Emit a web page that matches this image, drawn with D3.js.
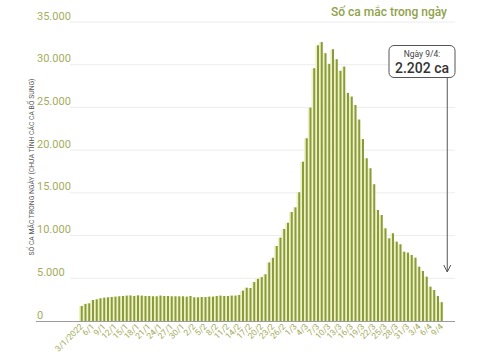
<!DOCTYPE html>
<html>
<head>
<meta charset="utf-8">
<script src="https://cdn.jsdelivr.net/npm/d3@7/dist/d3.min.js"></script>
<style>
  html, body { margin: 0; padding: 0; background: #ffffff; }
  svg { display: block; font-family: Roboto, "Noto Sans", sans-serif; }
</style>
</head>
<body>
<svg id="chart" width="479" height="355"></svg>
<script>
// ---- DATA ----
const startDate = "2022-01-03";
const dayCount = 97; // 3/1/2022 .. 9/4/2022
const cases = [
  1760, 2000, 2070, 2460, 2540, 2660, 2730, 2770, 2810, 2850,
  2890, 2930, 2970, 2990, 2930, 3000, 2970, 2930, 2930, 2890,
  2890, 2970, 2930, 2930, 2890, 2890, 2890, 2890, 2850, 2930,
  2770, 2770, 2810, 2810, 2850, 2850, 2930, 2970, 2930, 2930,
  2970, 2970, 3050, 3550, 3900, 3860, 4560, 4940, 5130, 5470,
  6850, 7400, 8780, 9760, 10770, 11500, 12760, 13300, 15070, 18650,
  21390, 24980, 29590, 32270, 32650, 31350, 30100, 31810, 30640, 29290,
  29780, 26700, 26270, 25290, 23580, 21300, 19050, 17880, 16010, 13000,
  12410, 10850, 9680, 10270, 9290, 8980, 8110, 8000, 7730, 7410,
  6360, 5850, 5190, 4020, 3630, 2930, 2202
];
const yTicks = [0, 5000, 10000, 15000, 20000, 25000, 30000, 35000];
const tickEvery = 3;
const titleText = "Số ca mắc trong ngày";
const yAxisTitle = "SỐ CA MẮC TRONG NGÀY (CHƯA TÍNH CÁC CA BỔ SUNG)";
const calloutLine1 = "Ngày 9/4:";
const calloutLine2 = "2.202 ca";

// ---- build dates ----
const t0 = new Date(startDate + "T00:00:00");
const dates = d3.range(dayCount).map(i => d3.timeDay.offset(t0, i));
const data = dates.map((d, i) => ({ date: d, value: cases[i], i }));

function dateLabel(d, i) {
  const s = d.getDate() + "/" + (d.getMonth() + 1);
  return i === 0 ? s + "/" + d.getFullYear() : s;
}

const locale = d3.formatLocale({ decimal: ",", thousands: ".", grouping: [3], currency: ["", ""] });
const fmt = locale.format(",d");

// ---- layout ----
const svg = d3.select("#chart");
const x = d3.scaleBand().domain(data.map(d => d.i)).range([79, 442.75]).padding(0);
const y = d3.scaleLinear().domain([0, 35000]).range([321, 22]);
const bw = x.bandwidth();

const olive = "#8a9b3c";
const pale = "#eef2c4";
const labelColor = "#a4ad5c";

// gridlines
svg.append("g").selectAll("line").data(yTicks.filter(t => t > 0)).join("line")
  .attr("x1", 70).attr("x2", 455)
  .attr("y1", d => y(d)).attr("y2", d => y(d))
  .attr("stroke", "#ececec").attr("stroke-width", 1);

// y tick labels
svg.append("g").selectAll("text").data(yTicks).join("text")
  .attr("x", 37).attr("y", d => y(d) - 2.5)
  .attr("font-size", 11).attr("fill", labelColor)
  .text(d => fmt(d));

// y axis title
svg.append("text")
  .attr("transform", "translate(34,167) rotate(-90)")
  .attr("text-anchor", "middle")
  .attr("font-size", 7)
  .attr("fill", "#555")
  .attr("textLength", 177).attr("lengthAdjust", "spacingAndGlyphs")
  .text(yAxisTitle);

// bars: pale body + olive edge
const bars = svg.append("g");
bars.selectAll("rect.body").data(data).join("rect").attr("class", "body")
  .attr("x", d => x(d.i)).attr("width", bw)
  .attr("y", d => y(d.value)).attr("height", d => y(0) - y(d.value))
  .attr("fill", pale);
bars.selectAll("rect.edge").data(data).join("rect").attr("class", "edge")
  .attr("x", d => x(d.i) + bw - 2).attr("width", 2)
  .attr("y", d => y(d.value)).attr("height", d => y(0) - y(d.value))
  .attr("fill", olive);

// baseline
svg.append("line")
  .attr("x1", 36).attr("x2", 455)
  .attr("y1", y(0) + 0.5).attr("y2", y(0) + 0.5)
  .attr("stroke", "#9c9c9c").attr("stroke-width", 1.2);

// x tick labels
const tickData = data.filter(d => d.i % tickEvery === 0);
svg.append("g").selectAll("text").data(tickData).join("text")
  .attr("transform", d => `translate(${x(d.i) + bw + 1},${y(0) + 6}) rotate(-45)`)
  .attr("text-anchor", "end")
  .attr("font-size", 8.5)
  .attr("fill", labelColor)
  .text(d => dateLabel(d.date, d.i));

// title
svg.append("text")
  .attr("x", 447).attr("y", 16)
  .attr("text-anchor", "end")
  .attr("font-size", 12).attr("font-weight", 500)
  .attr("fill", "#8fa24a")
  .text(titleText);

// callout
const last = data[data.length - 1];
const ax = x(last.i) + bw + 4.5;
svg.append("rect")
  .attr("x", 389).attr("y", 45.5).attr("width", 66).attr("height", 32)
  .attr("rx", 5).attr("ry", 5)
  .attr("fill", "#fff").attr("stroke", "#555").attr("stroke-width", 1);
svg.append("text")
  .attr("x", 422).attr("y", 57)
  .attr("text-anchor", "middle").attr("font-size", 8.5).attr("fill", "#444")
  .text(calloutLine1);
svg.append("text")
  .attr("x", 422).attr("y", 73)
  .attr("text-anchor", "middle").attr("font-size", 14).attr("font-weight", 500).attr("fill", "#333")
  .text(calloutLine2);
svg.append("line")
  .attr("x1", ax).attr("x2", ax)
  .attr("y1", 77.5).attr("y2", 272)
  .attr("stroke", "#555").attr("stroke-width", 1);
svg.append("path")
  .attr("d", `M${ax - 3.5},${265} L${ax},${272} L${ax + 3.5},${265}`)
  .attr("fill", "none").attr("stroke", "#555").attr("stroke-width", 1);
</script>
</body>
</html>
